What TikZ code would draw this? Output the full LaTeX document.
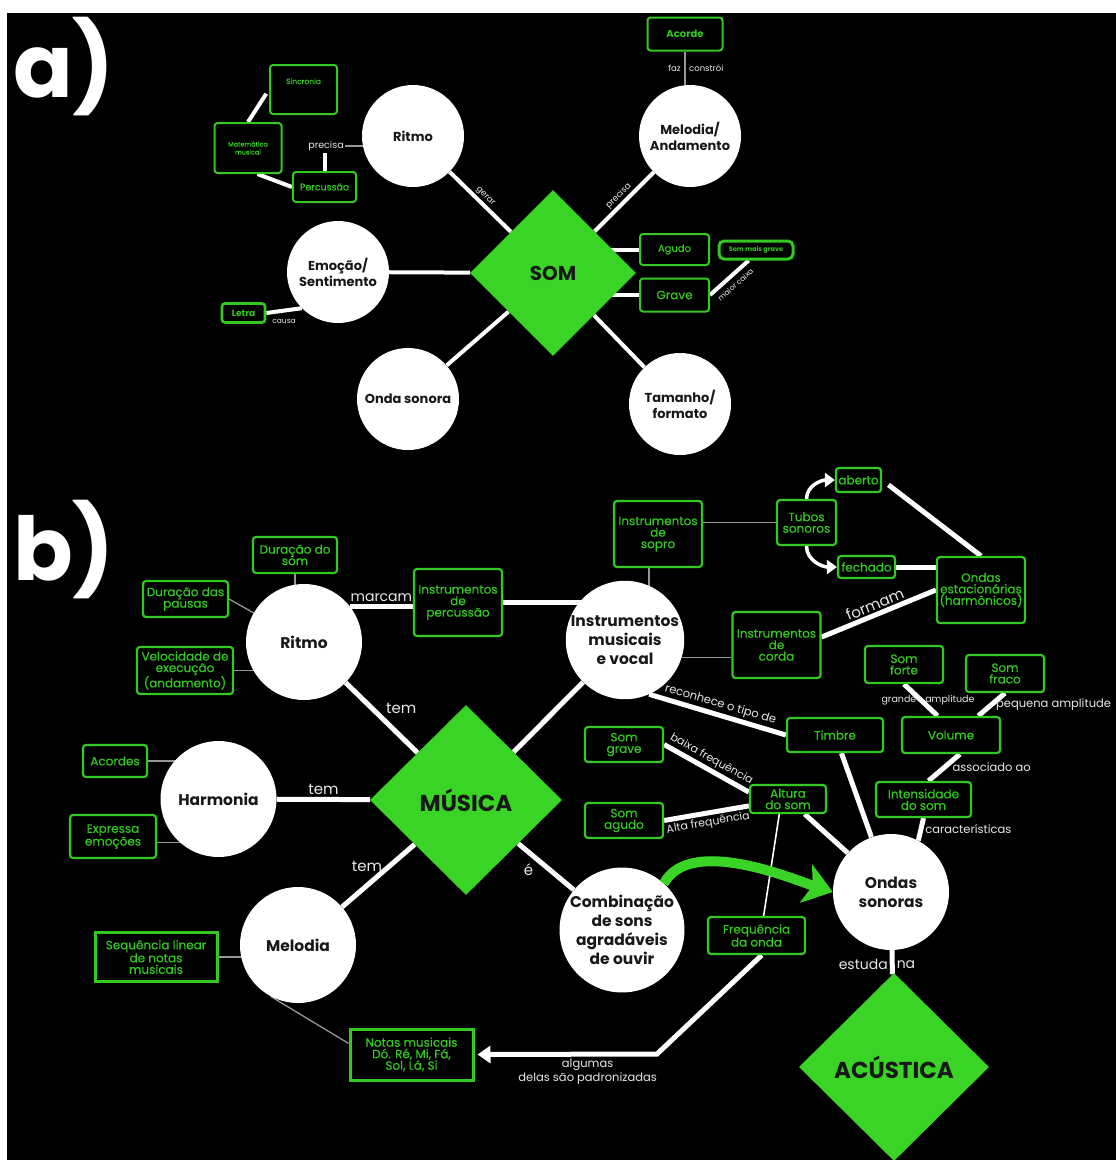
\documentclass[tikz,border=0pt]{standalone}
\usepackage{fontspec}
\setmainfont{Poppins}
\newfontfamily\medfam[FakeBold=0.4]{Poppins}
\usepackage{tikz}
\usetikzlibrary{arrows.meta, shapes.geometric}
\definecolor{musGreen}{RGB}{58,212,38}
\definecolor{boxGreen}{RGB}{52,200,34}
\definecolor{inkDark}{RGB}{24,24,24}
\definecolor{lineGray}{RGB}{150,150,150}
\definecolor{labelWhite}{RGB}{232,232,232}
\newcommand{\bubfontA}{\fontsize{13}{16}\selectfont\bfseries}
\newcommand{\bubfontB}{\fontsize{15.5}{19}\selectfont\bfseries}
\newcommand{\boxfontB}{\medfam\fontsize{12}{11.5}\selectfont}
\newcommand{\lblfontS}{\fontsize{11.5}{14}\selectfont}
\newcommand{\lblfontM}{\fontsize{15}{17}\selectfont}
\newcommand{\lblfontA}{\fontsize{8.5}{10}\selectfont}
\pgfdeclarelayer{paper}
\pgfdeclarelayer{back}
\pgfsetlayers{paper,back,main}
\tikzset{
  gem/.style={diamond, aspect=1, fill=musGreen, text=inkDark, inner sep=0pt,
    font=\fontsize{23}{26}\selectfont\bfseries},
  bubA/.style={circle, fill=white, text=inkDark, inner sep=0pt, align=center,
    minimum size=102pt, font=\bubfontA},
  bubB/.style={circle, fill=white, text=inkDark, inner sep=0pt, align=center,
    minimum size=116pt, font=\bubfontB},
  gboxA/.style={draw=boxGreen, line width=2pt, rounded corners=3pt, fill=black,
    text=boxGreen, align=center, inner sep=0pt, font=\medfam\fontsize{10}{12}\selectfont},
  gbox/.style={draw=boxGreen, line width=2.2pt, rounded corners=3pt, fill=black,
    text=boxGreen, align=center, inner sep=0pt, font=\boxfontB},
  sqbox/.style={gbox, rounded corners=0pt, line width=3pt},
  linkA/.style={draw=white, line width=4pt},
  linkB/.style={draw=white, line width=5pt},
  thinA/.style={draw=lineGray, line width=1.3pt},
  thinB/.style={draw=lineGray, line width=1.3pt},
  arrowW/.style={draw=white, line width=3.5pt, -{Triangle[width=14pt,length=10pt]}},
  garrow/.style={draw=musGreen, line width=10pt, -{Stealth[width=40pt,length=28pt,inset=7pt]}},
  lblA/.style={text=labelWhite, inner sep=1.5pt, font=\lblfontA},
  lblS/.style={text=labelWhite, inner sep=2pt, font=\lblfontS},
  lblM/.style={text=labelWhite, inner sep=2pt, font=\lblfontM},
  bigtag/.style={text=white, anchor=base west, inner sep=0pt,
    font=\fontsize{88}{88}\selectfont\bfseries}
}
\begin{document}
\begin{tikzpicture}[x=1pt, y=1pt]
  \useasboundingbox (0,0) rectangle (1116,-1160);
  \begin{pgfonlayer}{paper}
    \fill[white] (0,0) rectangle (1116,-1160);
    \fill[black] (7,-13) rectangle (1116,-1160);
  \end{pgfonlayer}

  \node[bigtag] (tagA) at (13,-97) {a)};
  \node[bigtag] (tagB) at (13,-580) {b)};

  % a) SOM
  \node[gem, minimum width=166pt, minimum height=166pt, font=\fontsize{20}{22}\selectfont\bfseries] (somA) at (553,-273) {SOM};
  \node[bubA] (ritA) at (413,-136) {Ritmo};
  \node[bubA] (melA) at (690,-136) {Melodia/\\Andamento};
  \node[bubA] (emoA) at (338,-272) {Emoção/\\Sentimento};
  \node[bubA] (ondA) at (408,-399) {Onda sonora};
  \node[bubA] (tamA) at (680,-404) {Tamanho/\\formato};

  \node[gboxA, minimum width=75pt, minimum height=33pt, font=\fontsize{10}{12}\selectfont\bfseries] (acoA) at (685,-34) {Acorde};
  \node[gboxA, anchor=north, minimum width=67pt, text height=19pt, text depth=30pt, font=\medfam\fontsize{7.5}{9}\selectfont] (sincA) at (303.5,-64) {Sincronia};
  \node[gboxA, minimum width=67pt, minimum height=50pt, font=\medfam\fontsize{6.5}{8}\selectfont] (matA) at (248,-148) {Matemática\\musical};
  \node[gboxA, minimum width=63pt, minimum height=30pt, font=\medfam\fontsize{9.5}{11}\selectfont] (percA) at (324.5,-187) {Percussão};
  \node[gboxA, minimum width=69pt, minimum height=31pt] (agudoA) at (674.5,-249.5) {Agudo};
  \node[gboxA, minimum width=69pt, minimum height=33pt, font=\medfam\fontsize{12}{14}\selectfont] (graveA) at (674.5,-295) {Grave};
  \node[gboxA, line width=3pt, rounded corners=5pt, minimum width=74pt, minimum height=18pt, font=\fontsize{6.5}{8}\selectfont\bfseries] (maisA) at (756,-250) {Som mais grave};
  \node[gboxA, line width=2.6pt, minimum width=43pt, minimum height=19pt, font=\fontsize{9}{11}\selectfont\bfseries] (letraA) at (243.5,-313) {Letra};
  \node[lblA, font=\fontsize{9.5}{11}\selectfont] (precA) at (326,-146) {precisa};

  \begin{pgfonlayer}{back}
    \draw[linkA] (ritA) -- node[lblA, sloped, above] {gerar} (somA);
    \draw[linkA] (somA) -- node[lblA, sloped, above] {precisa} (melA);
    \draw[linkA] (emoA) -- (somA);
    \draw[linkA] (ondA) -- (somA);
    \draw[linkA] (tamA) -- (somA);
    \draw[linkA] (agudoA.west) -- (agudoA.west -| somA.center);
    \draw[linkA] (graveA.west) -- (graveA.west -| somA.center);
    \draw[linkA] (graveA.east) -- node[lblA, sloped, below=3pt, font=\fontsize{7.5}{9}\selectfont] {maior caixa} (maisA.-125);
    \draw[thinA] (acoA.south) -- node[lblA, left=2pt] {faz} node[lblA, right=2pt] {constrói} (acoA.south |- melA.north);
    \draw[linkA, shorten >=5pt] (matA.north) -- (sincA.west);
    \draw[linkA] (matA.-70) -- (percA.west);
    \draw[linkA] (percA) -- (percA |- precA.south);
    \draw[thinA] (precA.east) -- (precA.east -| ritA.center);
    \draw[linkA] (letraA.east) -- node[lblA, below=5pt, font=\fontsize{7.5}{9}\selectfont] {causa} (emoA.-135);
  \end{pgfonlayer}

  % b) MUSICA
  \node[gem, minimum width=192pt, minimum height=190pt] (musB) at (466,-800) {MÚSICA};
  \node[gem, minimum width=190pt, minimum height=188pt] (acuB) at (894,-1067) {ACÚSTICA};
  \node[bubB] (ritB) at (304,-642) {Ritmo};
  \node[bubB] (insB) at (625,-640) {Instrumentos\\musicais\\e vocal};
  \node[bubB] (harB) at (218.5,-799) {Harmonia};
  \node[bubB] (melB) at (298,-945) {Melodia};
  \node[bubB] (comB) at (622,-930) {Combinação\\de sons\\agradáveis\\de ouvir};
  \node[bubB] (ondB) at (891,-892) {Ondas\\sonoras};

  \node[gbox, minimum width=84pt, minimum height=36pt] (dursomB) at (295,-555) {Duração do\\som};
  \node[gbox, minimum width=85pt, minimum height=36pt] (durpauB) at (185.5,-599) {Duração das\\pausas};
  \node[gbox, minimum width=96pt, minimum height=47pt] (velB) at (185,-670.5) {Velocidade de\\execução\\(andamento)};
  \node[gbox, minimum width=88pt, minimum height=67pt] (percB) at (458,-602.5) {Instrumentos\\de\\percussão};
  \node[gbox, minimum width=88pt, minimum height=66pt] (soproB) at (658,-534) {Instrumentos\\de\\sopro};
  \node[gbox, minimum width=59pt, minimum height=45pt] (tubosB) at (806.5,-522.5) {Tubos\\sonoros};
  \node[gbox, minimum width=45pt, minimum height=24pt] (abertoB) at (858.5,-480) {aberto};
  \node[gbox, minimum width=57pt, minimum height=22pt] (fechadoB) at (866.5,-567) {fechado};
  \node[gbox, minimum width=88pt, minimum height=66pt] (ondEstB) at (981,-590) {Ondas\\estacionárias\\(harmônicos)};
  \node[gbox, minimum width=88pt, minimum height=66pt] (cordaB) at (776.5,-645) {Instrumentos\\de\\corda};
  \node[gbox, minimum width=78pt, minimum height=37pt] (forteB) at (904,-664.5) {Som\\forte};
  \node[gbox, minimum width=78pt, minimum height=37pt] (fracoB) at (1005,-673.5) {Som\\fraco};
  \node[gbox, minimum width=96pt, minimum height=34pt] (timbreB) at (835,-735) {Timbre};
  \node[gbox, minimum width=98pt, minimum height=36pt] (volumeB) at (951,-735) {Volume};
  \node[gbox, minimum width=78pt, minimum height=35pt] (sgraveB) at (624,-744.5) {Som\\grave};
  \node[gbox, minimum width=76pt, minimum height=28pt] (alturaB) at (788,-799) {Altura\\do som};
  \node[gbox, minimum width=78pt, minimum height=35pt] (sagudoB) at (624,-820.5) {Som\\agudo};
  \node[gbox, minimum width=95pt, minimum height=35pt] (intensB) at (923.5,-799.5) {Intensidade\\do som};
  \node[gbox, minimum width=97pt, minimum height=37pt] (freqB) at (756.5,-935.5) {Frequência\\da onda};
  \node[gbox, minimum width=64pt, minimum height=32pt] (acordesB) at (115,-761) {Acordes};
  \node[gbox, minimum width=86pt, minimum height=43pt] (expB) at (113,-836.5) {Expressa\\emoções};
  \node[sqbox, minimum width=122pt, minimum height=49pt] (seqB) at (156,-957) {Sequência linear\\de notas\\musicais};
  \node[sqbox, minimum width=123pt, minimum height=51pt] (notasB) at (411.5,-1054.5) {Notas musicais\\Dó. Ré, Mi, Fá,\\Sol, Lá, Si};
  \coordinate (bendB) at (657,-1054);

  \begin{pgfonlayer}{back}
    \draw[thinB] (dursomB.south) -- (dursomB.south |- ritB.center);
    \draw[thinB] (durpauB.east) -- (ritB.150);
    \draw[thinB] (velB.east) -- (velB.east -| ritB.center);
    \draw[linkB] (ritB.38) -- node[lblM, above, font=\fontsize{14}{16}\selectfont] {marcam} (ritB.38 -| percB.west);
    \draw[linkB] (percB.east) -- (percB.east -| insB.center);
    \draw[thinB] (soproB.-105) -- (soproB.-105 |- insB.center);
    \draw[thinB] (tubosB.west -| soproB.east) -- (tubosB.west);
    \draw[linkB, shorten <=8pt] (abertoB.east) -- (ondEstB.north);
    \draw[linkB] (fechadoB.east) -- (fechadoB.east -| ondEstB.west);
    \draw[linkB] (cordaB.10) -- node[lblM, sloped, above] {formam} (ondEstB.west);
    \draw[thinB] (insB.-17) -- (insB.-17 -| cordaB.west);
    \draw[linkB] (insB.-66) -- node[lblS, sloped, above] {reconhece o tipo de} (timbreB.west);
    \draw[linkB] (insB) -- (musB);
    \draw[linkB] (ritB) -- node[lblM, above right] {tem} (musB);
    \draw[linkB] (harB) -- node[lblM, above] {tem} (musB);
    \draw[linkB] (melB) -- node[lblM, pos=0.4, above=6pt, xshift=-4pt] {tem} (musB);
    \draw[thinB] (acordesB.east) -- (acordesB.east -| harB.center);
    \draw[thinB] (expB.-8) -- (expB.-8 -| harB.center);
    \draw[thinB] (seqB.east) -- (seqB.east -| melB.center);
    \draw[thinB] (melB.-118) -- (notasB.170);
    \draw[linkB] (musB) -- node[lblM, pos=0.35, below left] {é} (comB);
    \draw[linkB] (sgraveB.east) -- node[lblS, sloped, above, font=\fontsize{11}{13}\selectfont] {baixa frequência} (alturaB.170);
    \draw[linkB] (sagudoB.east) -- node[lblS, sloped, below, font=\fontsize{11}{13}\selectfont] {Alta frequência} (alturaB.-170);
    \draw[draw=white, line width=1.6pt] (alturaB.-120) -- (freqB.70);
    \draw[linkB] (alturaB) -- (ondB);
    \draw[linkB] (timbreB) -- (ondB);
    \draw[linkB] (forteB.south) -- node[lblS, left, font=\fontsize{9.5}{11}\selectfont] {grande} node[lblS, right, font=\fontsize{9.5}{11}\selectfont] {amplitude} (volumeB.125);
    \draw[linkB] (fracoB.south) -- node[lblS, right] {pequena amplitude} (volumeB.35);
    \draw[linkB] (volumeB.-65) -- node[lblS, right=4pt] {associado ao} (intensB.75);
    \draw[linkB] (intensB.south) -- node[lblS, right] {características} (ondB.62);
    \draw[linkB] (ondB) -- node[lblM, left, pos=0.6, font=\fontsize{14}{16}\selectfont] {estuda} node[lblM, right, pos=0.6, font=\fontsize{14}{16}\selectfont] {na} (acuB);
    \draw[linkB, -{Triangle[width=17pt,length=13pt]}, shorten >=3pt] (freqB.-75) -- (bendB) -- node[lblS, pos=0.38, below, align=center] {algumas\\delas são padronizadas} (notasB.east);
  \end{pgfonlayer}
  \draw[arrowW] (tubosB.north) to[out=90, in=180] (abertoB.west);
  \draw[arrowW] (tubosB.south) to[out=-90, in=180] (fechadoB.west);
  \draw[garrow] (comB.48) .. controls (690,-835) and (795,-880) .. (ondB.west);

\end{tikzpicture}
\end{document}
